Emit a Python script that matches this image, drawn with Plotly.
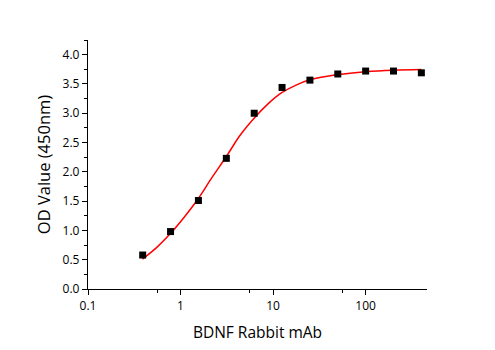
import plotly.graph_objects as go

# measured data
conc = [0.39, 0.78, 1.56, 3.125, 6.25, 12.5, 25, 50, 100, 200, 400]
od = [0.58, 0.98, 1.51, 2.23, 3.00, 3.44, 3.565, 3.67, 3.72, 3.72, 3.69]

# fitted curve
fit_x = [0.388, 0.554, 0.78, 1.10, 1.55, 2.18, 3.15, 4.38, 6.27, 8.81, 12.4, 17.7, 25, 50, 100, 200, 400]
fit_y = [0.51, 0.71, 0.95, 1.23, 1.54, 1.90, 2.27, 2.62, 2.92, 3.16, 3.35, 3.48, 3.57, 3.66, 3.71, 3.735, 3.745]

x_ticks = [0.1, 1, 10, 100]
x_labels = ["0.1", "1", "10", "100"]
x_minor = [0.56, 5.6, 56]

fig = go.Figure()
fig.add_trace(go.Scatter(x=fit_x, y=fit_y, mode="lines",
                         line=dict(color="#ff0000", width=1.5, shape="spline"),
                         hoverinfo="skip"))
fig.add_trace(go.Scatter(x=conc, y=od, mode="markers",
                         marker=dict(symbol="square", size=7, color="black")))

font_family = "Open Sans, Noto Sans, sans-serif"
fig.update_layout(
    width=495, height=350,
    margin=dict(l=88, r=68, t=40, b=59),
    plot_bgcolor="white", paper_bgcolor="white",
    showlegend=False,
    font=dict(family=font_family, color="black", size=11),
)
fig.update_xaxes(
    type="log", range=[-1, 2.663],
    tickmode="array", tickvals=x_ticks, ticktext=x_labels,
    showgrid=False, zeroline=False,
    showline=True, linecolor="black", linewidth=1.3,
    ticks="outside", ticklen=5, tickwidth=1.3, tickcolor="black",
    tickfont=dict(size=12),
    minor=dict(tickmode="array", tickvals=x_minor, ticks="outside",
               ticklen=3, tickwidth=1, tickcolor="black", showgrid=False),
    title=dict(text="BDNF Rabbit mAb", font=dict(size=15.5), standoff=14),
)
fig.update_yaxes(
    range=[0, 4.25], dtick=0.5, tick0=0, tickformat=".1f",
    showgrid=False, zeroline=False,
    showline=True, linecolor="black", linewidth=1.3,
    ticks="outside", ticklen=5, tickwidth=1.3, tickcolor="black",
    tickfont=dict(size=12),
    minor=dict(dtick=0.25, ticks="outside", ticklen=3, tickwidth=1,
               tickcolor="black", showgrid=False),
    title=dict(text="OD Value (450nm)", font=dict(size=16.5), standoff=7),
)

fig.write_html("out.html")
